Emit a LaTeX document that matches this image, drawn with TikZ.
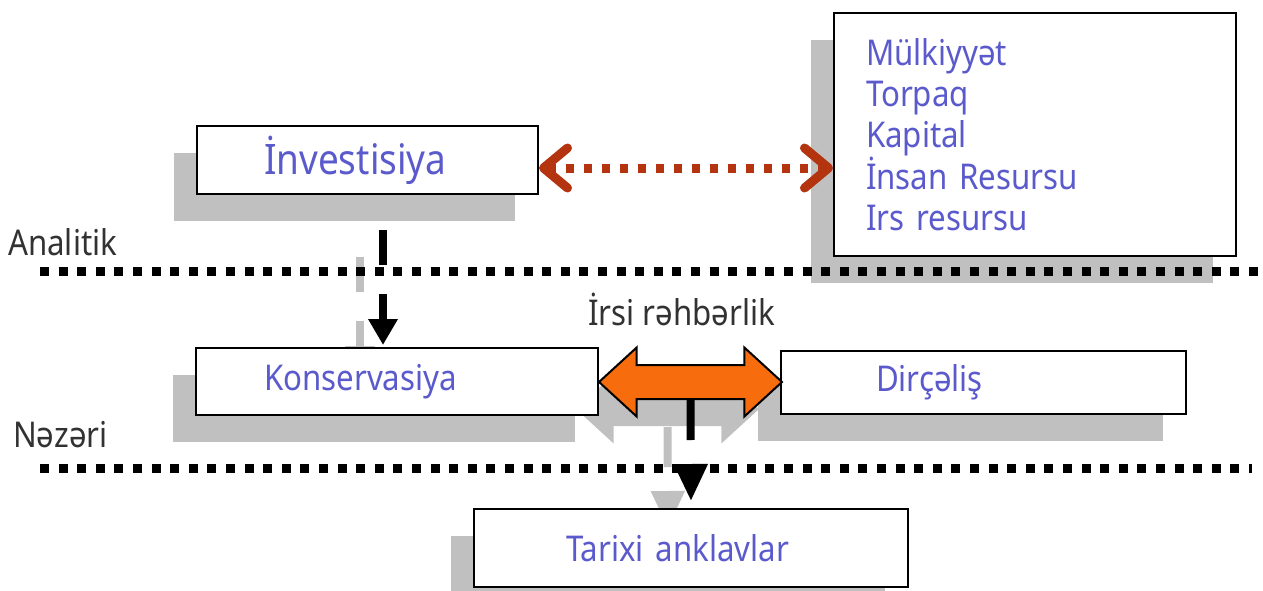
\documentclass[tikz,border=0pt]{standalone}
\usepackage{fontspec}
\setmainfont[FakeStretch=0.88]{Noto Sans}
\usetikzlibrary{positioning,shapes.arrows,shadows,arrows.meta,backgrounds}

\definecolor{txtblue}{RGB}{90,90,205}
\definecolor{lbldark}{RGB}{50,50,50}
\definecolor{resred}{RGB}{180,52,16}
\definecolor{arrorange}{RGB}{247,108,12}
\definecolor{shadegray}{RGB}{192,192,192}

\tikzset{
  graybelow/.style={drop shadow={shadow xshift=-23pt,shadow yshift=-27pt,fill=shadegray,opacity=1}},
  box/.style={draw=black,line width=2pt,fill=white,anchor=north west,inner ysep=0pt,align=left,
    text=txtblue,font=\fontsize{35.5}{41}\selectfont,graybelow},
  lbl/.style={anchor=base west,inner sep=0pt,text=lbldark,font=\fontsize{35.5}{41}\selectfont},
  levelline/.style={line width=9pt,dash pattern=on 9pt off 9.6pt},
  resline/.style={resred,line width=9pt,dash pattern=on 8pt off 10pt,
    {Straight Barb[length=24pt,width=40pt,line join=round,line cap=round]}-{Straight Barb[length=24pt,width=40pt,line join=round,line cap=round]}},
  flow/.style={line width=8pt},
  dblarrow/.style={double arrow,draw=black,line width=2pt,fill=arrorange,inner xsep=0pt,inner ysep=16pt,
    minimum height=183pt,double arrow head extend=17.5pt,double arrow tip angle=85,graybelow},
}

\begin{document}
\begin{tikzpicture}[x=1pt,y=-1pt]
  \useasboundingbox (0,0) rectangle (1263,591);

  % boxes
  \node[box,inner xsep=67pt,text width=207pt,minimum height=68pt,font=\fontsize{42}{42}\selectfont] (inv) at (196,125) {İnvestisiya};
  \node[box,inner xsep=32pt,text width=338pt,minimum height=243pt] (res) at (833,12)
    {Mülkiyyət\\Torpaq\\Kapital\\İnsan Resursu\\Irs resursu};
  \node[box,inner xsep=95pt,text width=215pt,minimum height=63pt] (dirc) at (780,350) {Dirçəliş};
  \node[dblarrow] (irsi) at (690.5,382) {};
  \node[box,inner xsep=68pt,text width=266pt,minimum height=67pt] (kons) at (195,347) {Konservasiya};
  \node[box,inner xsep=92pt,text width=250pt,minimum height=78pt] (tar) at (473,508) {Tarixi anklavlar};

  % labels
  \node[lbl] (anl) at (8,255) {Analitik};
  \node[lbl] (nez) at (13,447) {Nəzəri};
  \node[lbl] (rhb) at (588,325) {İrsi rəhbərlik};

  % level lines
  \draw[levelline] (40,271) -- (1263,271);
  \draw[levelline] (40,468) -- (1252,468);

  % connectors
  \draw[resline] (inv.east |- 0,168) -- (res.west |- 0,168);

  \coordinate (a1) at ([xshift=15.5pt]inv.south);
  \coordinate (a1e) at (a1 |- kons.north);
  \coordinate (a2) at (irsi.south);
  \coordinate (a2e) at (tar.north);
  \draw[flow,-{Triangle[length=26pt,width=28pt]},dash pattern=on 35pt off 29pt,shorten <=35pt,shorten >=2pt] (a1) -- (a1e);
  \draw[flow,-{Triangle[length=37pt,width=32pt]},dash pattern=on 40pt off 30pt,shorten >=7pt] (a2) -- (a2e);

  % shadows of the flow arrows
  \begin{scope}[on background layer]
    \coordinate (a1s) at ([shift={(-23pt,-27pt)}]a1);
    \coordinate (a1es) at ([shift={(-23pt,-27pt)}]a1e);
    \coordinate (a2s) at ([shift={(-23pt,-27pt)}]a2);
    \coordinate (a2es) at ([shift={(-23pt,-27pt)}]a2e);
    \draw[flow,shadegray,-{Triangle[length=26pt,width=28pt]},dash pattern=on 35pt off 29pt,shorten <=35pt,shorten >=2pt] (a1s) -- (a1es);
    \draw[flow,shadegray,-{Triangle[length=37pt,width=32pt]},dash pattern=on 40pt off 30pt,shorten >=7pt] (a2s) -- (a2es);
  \end{scope}
\end{tikzpicture}
\end{document}
